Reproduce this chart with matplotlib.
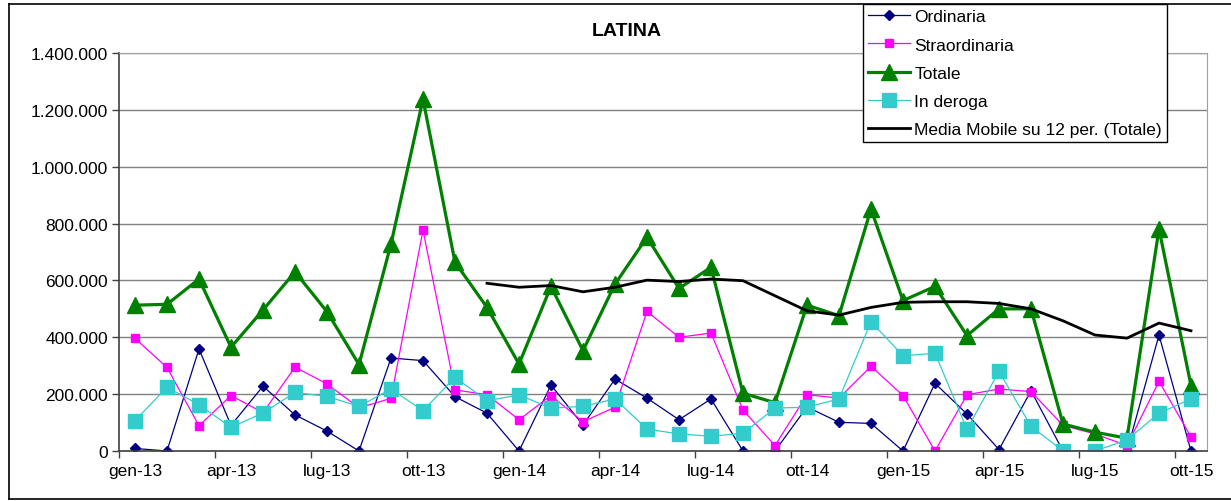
import matplotlib.pyplot as plt
from matplotlib.lines import Line2D
from matplotlib.ticker import FuncFormatter

plt.rcParams['font.family'] = ['Liberation Sans', 'DejaVu Sans']

# months gen-13 .. ott-15
mesi = ["gen", "feb", "mar", "apr", "mag", "giu", "lug", "ago", "set", "ott", "nov", "dic"]
months = [f"{mesi[m % 12]}-{13 + m // 12}" for m in range(34)]

ordinaria = [9000, 0, 359000, 90000, 228000, 127000, 70000, 0, 327000, 318000,
             191000, 133000, 0, 232000, 91000, 253000, 186000, 110000, 183000, 0,
             0, 155000, 101000, 97000, 0, 238000, 130000, 5000, 212000, 0,
             0, 0, 408000, 0]
straordinaria = [396000, 294000, 89000, 195000, 135000, 295000, 236000, 152000, 185000, 777000,
                 215000, 198000, 110000, 195000, 103000, 154000, 491000, 400000, 415000, 144000,
                 19000, 198000, 186000, 298000, 195000, 0, 198000, 218000, 209000, 90000,
                 60000, 19000, 245000, 50000]
totale = [513000, 516000, 605000, 365000, 496000, 630000, 490000, 304000, 728000, 1238000,
          664000, 505000, 306000, 579000, 353000, 587000, 752000, 572000, 646000, 203000,
          170000, 513000, 476000, 851000, 529000, 579000, 406000, 500000, 500000, 95000,
          66000, 45000, 781000, 230000]
in_deroga = [107000, 224000, 163000, 83000, 134000, 206000, 192000, 157000, 218000, 142000,
             259000, 177000, 197000, 151000, 157000, 183000, 77000, 60000, 52000, 62000,
             151000, 154000, 183000, 455000, 335000, 344000, 77000, 280000, 87000, 0,
             0, 39000, 133000, 183000]
# 12 month moving average of Totale, starts at dic-13
media_mobile = [None] * 11 + [590000, 576000, 582000, 560000, 576000, 601000, 596000, 605000,
                              599000, 546000, 493000, 478000, 505000, 523000, 525000, 525000,
                              519000, 500000, 458000, 408000, 397000, 450000, 423000]

fig = plt.figure(figsize=(12.31, 5.02), dpi=100)
fig.patch.set_facecolor("#ffffff")

# outer chart border (right side runs off the picture)
W, H = 1231, 502
for xs, ys in [([9, 9], [5, 500]), ([9, W], [5, 5]), ([9, W], [500, 500])]:
    fig.add_artist(Line2D([x / W for x in xs], [1 - y / H for y in ys],
                          color="black", linewidth=1.2))

ax = fig.add_axes([119 / W, 1 - 452 / H, (1207 - 119) / W, (452 - 54) / H])
x = list(range(len(months)))

ax.plot(x, ordinaria, color="#000080", linewidth=0.9, marker="D", markersize=5, label="Ordinaria")
ax.plot(x, straordinaria, color="#ff00ff", linewidth=0.9, marker="s", markersize=6,
        label="Straordinaria")
ax.plot(x, totale, color="#008000", linewidth=2.3, marker="^", markersize=11, label="Totale")
ax.plot(x, in_deroga, color="#33cccc", linewidth=0.9, marker="s", markersize=10, label="In deroga")
mm_x = [i for i in x if media_mobile[i] is not None]
ax.plot(mm_x, [media_mobile[i] for i in mm_x], color="black", linewidth=2,
        label="Media Mobile su 12 per. (Totale)")

ax.set_xlim(-0.5, 33.5)
ax.set_ylim(0, 1400000)
ax.set_yticks(range(0, 1400001, 200000))
ax.yaxis.set_major_formatter(FuncFormatter(lambda v, p: f"{int(v):,}".replace(",", ".")))
ax.grid(axis="y", color="#808080", linewidth=1)
ax.set_axisbelow(True)

# tick marks between categories, labels every 3 months
ax.set_xticks([i - 0.5 for i in range(0, 34, 3)])
ax.set_xticklabels([])
ax.set_xticks(range(0, 34, 3), minor=True)
ax.set_xticklabels(months[::3], minor=True)
ax.tick_params(axis="x", which="major", length=5, width=1, color="#404040")
ax.tick_params(axis="x", which="minor", length=0, pad=9, labelsize=12.5)
ax.tick_params(axis="y", length=5, width=1, color="#404040", labelsize=12.5, pad=3)

for s in ["top", "right"]:
    ax.spines[s].set_color("#a0a0a0")
for s in ["left", "bottom"]:
    ax.spines[s].set_color("#404040")
    ax.spines[s].set_linewidth(1.2)

fig.text(627 / W, 1 - 32 / H, "LATINA", ha="center", va="center", fontsize=14,
         fontweight="bold")

leg = fig.legend(loc="upper left", bbox_to_anchor=(863 / W, 1 - 5 / H), fontsize=12.5,
                 frameon=True, fancybox=False, edgecolor="black", framealpha=1,
                 borderaxespad=0, borderpad=0.3, labelspacing=0.75, handlelength=2.4,
                 handletextpad=0.25)
leg.get_frame().set_linewidth(1)

fig.savefig("out.png", dpi=100)
